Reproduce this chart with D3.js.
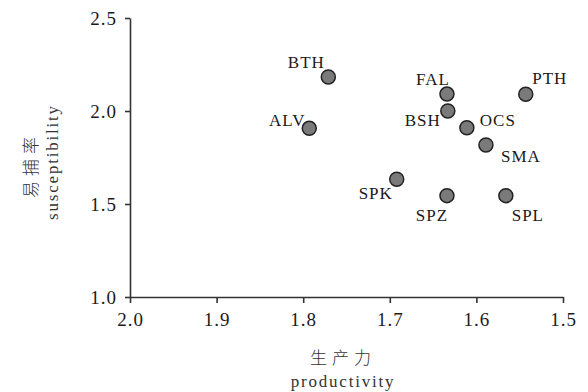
<!DOCTYPE html>
<html>
<head>
<meta charset="utf-8">
<script src="https://cdn.jsdelivr.net/npm/d3@7"></script>
<style>
  body { margin: 0; background: #fff; }
  svg text { font-family: "Liberation Serif", "DejaVu Serif", serif; fill: #1a1a1a; }
  svg text.cjk { font-family: "Noto Sans CJK SC", sans-serif; font-weight: 300; }
</style>
</head>
<body>
<svg id="chart" width="588" height="392"></svg>
<script>
// species codes and their values
var species = ["BTH", "ALV", "FAL", "BSH", "OCS", "PTH", "SMA", "SPK", "SPZ", "SPL"];
var productivity = [1.771, 1.793, 1.634, 1.633, 1.611, 1.543, 1.589, 1.692, 1.634, 1.566];
var susceptibility = [2.183, 1.907, 2.091, 2.0, 1.91, 2.09, 1.817, 1.633, 1.545, 1.545];

var xTicks = [2.0, 1.9, 1.8, 1.7, 1.6, 1.5];
var yTicks = [1.0, 1.5, 2.0, 2.5];

// where each label sits relative to its dot
var labelPos = {
    BTH: [-22, -9], ALV: [-22, -2], FAL: [-14, -9], BSH: [-25, 15],
    OCS: [31, -2], PTH: [24, -10], SMA: [35, 17], SPK: [-21, 20],
    SPZ: [-15, 25], SPL: [22, 25]
};

var serif = "'Liberation Serif', 'DejaVu Serif', serif";
var svg = d3.select("#chart");

var x = d3.scaleLinear().domain([2.0, 1.5]).range([130, 563]);
var y = d3.scaleLinear().domain([1.0, 2.5]).range([297, 18]);

var xAxis = svg.append("g")
    .attr("transform", "translate(0,297)")
    .call(d3.axisBottom(x).tickValues(xTicks).tickFormat(d3.format(".1f"))
        .tickSize(6).tickSizeOuter(0).tickPadding(10));

var yAxis = svg.append("g")
    .attr("transform", "translate(130,0)")
    .call(d3.axisLeft(y).tickValues(yTicks).tickFormat(d3.format(".1f"))
        .tickSize(5).tickSizeOuter(0).tickPadding(8));

[xAxis, yAxis].forEach(function(a) {
    a.attr("font-family", serif);
    a.select(".domain").attr("stroke", "#333").attr("stroke-width", 1.6);
    a.selectAll(".tick line").attr("stroke", "#333").attr("stroke-width", 1.6);
    a.selectAll(".tick text")
        .attr("font-family", serif)
        .style("font-size", "19px")
        .style("letter-spacing", "1px")
        .attr("fill", "#1a1a1a");
});

var data = species.map(function(s, i) {
    return { name: s, x: productivity[i], y: susceptibility[i] };
});

svg.selectAll(".dot")
    .data(data)
    .enter().append("circle")
    .attr("class", "dot")
    .attr("cx", function(d) { return x(d.x); })
    .attr("cy", function(d) { return y(d.y); })
    .attr("r", 7)
    .attr("fill", "#7a7a7a")
    .attr("stroke", "#222")
    .attr("stroke-width", 1.5);

svg.selectAll(".lbl")
    .data(data)
    .enter().append("text")
    .attr("class", "lbl")
    .attr("x", function(d) { return x(d.x) + labelPos[d.name][0]; })
    .attr("y", function(d) { return y(d.y) + labelPos[d.name][1]; })
    .attr("text-anchor", "middle")
    .style("font-size", "17px")
    .style("letter-spacing", "1px")
    .text(function(d) { return d.name; });

// axis titles
svg.append("text")
    .attr("class", "cjk")
    .attr("x", 343).attr("y", 364)
    .attr("text-anchor", "middle")
    .style("font-size", "17px")
    .style("letter-spacing", "5px")
    .style("fill", "#333")
    .text("生产力");
svg.append("text")
    .attr("x", 343).attr("y", 387)
    .attr("text-anchor", "middle")
    .style("font-size", "17px")
    .style("letter-spacing", "1.8px")
    .style("fill", "#333")
    .text("productivity");

svg.append("text")
    .attr("class", "cjk")
    .attr("transform", "translate(37,165) rotate(-90)")
    .attr("text-anchor", "middle")
    .style("font-size", "17px")
    .style("letter-spacing", "5px")
    .style("fill", "#333")
    .text("易捕率");
svg.append("text")
    .attr("transform", "translate(58,162) rotate(-90)")
    .attr("text-anchor", "middle")
    .style("font-size", "17px")
    .style("letter-spacing", "1.8px")
    .style("fill", "#333")
    .text("susceptibility");
</script>
</body>
</html>
